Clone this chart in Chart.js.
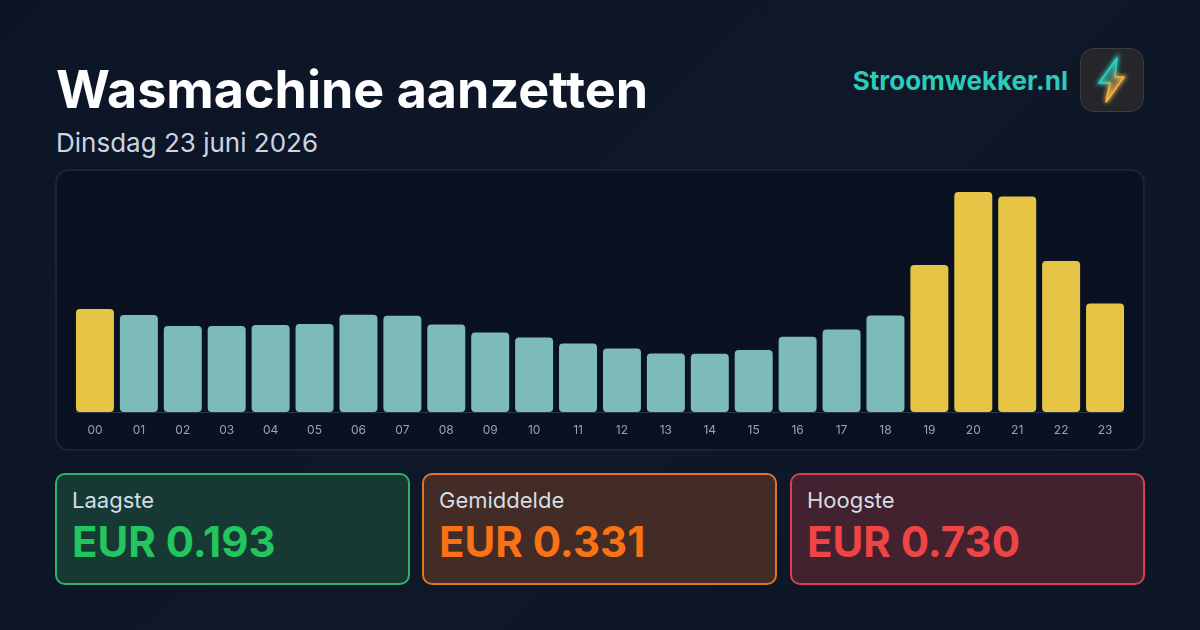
<!DOCTYPE html>
<html><head><meta charset="utf-8">
<script src="https://cdn.jsdelivr.net/npm/chart.js@4"></script>
<style>
html,body{margin:0;padding:0;width:1200px;height:630px;overflow:hidden;background:#0e1729}
body{position:relative;font-family:Inter,sans-serif;background:linear-gradient(135deg,#0b1526 0%,#0f1829 50%,#0d1627 100%);}
.title{position:absolute;left:56px;top:60px;font-size:52px;line-height:60px;font-weight:700;color:#fff;white-space:nowrap}
.sub{position:absolute;left:56px;top:126px;font-size:26px;line-height:34px;color:#cbd5e1;white-space:nowrap}
.brand{position:absolute;right:132px;top:64px;font-size:26px;line-height:34px;font-weight:700;color:#2cccb8;white-space:nowrap}
.logo{position:absolute;left:1080px;top:48px;width:64px;height:64px;box-sizing:border-box;border:1px solid #3a3c40;border-radius:14px;background:#24262a}
.logo svg{position:absolute;left:0;top:0}
.panel{position:absolute;left:55px;top:169px;width:1090px;height:282px;box-sizing:border-box;border:2px solid #1a2435;border-radius:14px;background:#0a1120}
canvas{position:absolute;left:56px;top:170px}
.card{position:absolute;top:473px;width:355px;height:112px;box-sizing:border-box;border:2px solid;border-radius:10px}
.card .l{position:absolute;left:15px;top:12px;font-size:22px;line-height:26px;color:#d5dde6;white-space:nowrap}
.card .v{position:absolute;left:15px;top:40px;font-size:42px;line-height:54px;font-weight:700;white-space:nowrap}
</style></head><body>
<div class="title" id="title"></div>
<div class="sub" id="sub"></div>
<div class="brand" id="brand"></div>
<div class="logo"><svg width="62" height="62" viewBox="0 0 62 62">
<defs><linearGradient id="g" x1="0.2" y1="0.15" x2="0.7" y2="0.9"><stop offset="0.35" stop-color="#2dd4bf"/><stop offset="0.62" stop-color="#f5b544"/></linearGradient>
<filter id="b" x="-60%" y="-60%" width="220%" height="220%"><feGaussianBlur stdDeviation="2.2"/></filter></defs>
<path d="M36 9 L18 34 L29 34 L25 53 L43 28 L34 28 Z" fill="none" stroke="url(#g)" stroke-width="3" filter="url(#b)"/>
<path d="M36 9 L18 34 L29 34 L25 53 L43 28 L34 28 Z" fill="url(#g)" fill-opacity=".4" stroke="url(#g)" stroke-width="1.4" stroke-linejoin="round"/>
</svg></div>
<div class="panel"></div>
<canvas id="c" width="1088" height="280" style="width:1088px;height:280px"></canvas>
<div id="cards"></div>
<script>
const titleText = "Wasmachine aanzetten";
const subtitleText = "Dinsdag 23 juni 2026";
const brandText = "Stroomwekker.nl";
const hours = ["00","01","02","03","04","05","06","07","08","09","10","11","12","13","14","15","16","17","18","19","20","21","22","23"];
const prices = [0.342,0.322,0.285,0.285,0.289,0.292,0.323,0.319,0.290,0.264,0.247,0.227,0.211,0.194,0.193,0.206,0.250,0.274,0.320,0.488,0.730,0.715,0.501,0.360];
const highlightedHours = ["00","19","20","21","22","23"];
const statLabels = ["Laagste","Gemiddelde","Hoogste"];
const statValues = ["EUR 0.193","EUR 0.331","EUR 0.730"];

document.getElementById('title').textContent = titleText;
document.getElementById('sub').textContent = subtitleText;
document.getElementById('brand').textContent = brandText;

const cardStyles = [
 {left:55,border:'#2fb36a',bg:'#163a33',color:'#22c55e'},
 {left:422,border:'#d9762c',bg:'#422c25',color:'#f97316'},
 {left:790,border:'#d4434a',bg:'#42222e',color:'#ef4444'}
];
const cards = document.getElementById('cards');
statLabels.forEach((t,i)=>{
  const s = cardStyles[i], d = document.createElement('div');
  d.className='card'; d.style.left=s.left+'px'; d.style.borderColor=s.border; d.style.background=s.bg;
  const l=document.createElement('div'); l.className='l'; l.textContent=t;
  const v=document.createElement('div'); v.className='v'; v.style.color=s.color; v.textContent=statValues[i];
  d.append(l,v); cards.appendChild(d);
});

const baseLine = {id:'baseLine',afterDatasetsDraw(ch){
  const a=ch.chartArea,x=ch.scales.x,c=ch.ctx,half=(x.getPixelForValue(1)-x.getPixelForValue(0))*0.865/2;
  c.save();c.strokeStyle='#2a3648';c.lineWidth=1;c.beginPath();
  c.moveTo(x.getPixelForValue(0)-half,a.bottom+.5);c.lineTo(x.getPixelForValue(hours.length-1)+half,a.bottom+.5);c.stroke();c.restore();
}};
new Chart(document.getElementById('c'),{
  type:'bar',
  data:{labels:hours,datasets:[{data:prices,
    backgroundColor:hours.map(h=>highlightedHours.includes(h)?'#e6c546':'#7dbbba'),
    borderRadius:4,borderSkipped:false,barPercentage:0.865,categoryPercentage:1}]},
  plugins:[baseLine],
  options:{responsive:false,animation:false,devicePixelRatio:1,
    layout:{padding:{left:17,right:17,top:22,bottom:0}},
    plugins:{legend:{display:false},tooltip:{enabled:false},title:{display:false}},
    scales:{
      y:{display:false,min:0,max:0.73},
      x:{grid:{display:false,drawBorder:false},border:{display:false},
         afterFit(s){s.height=38;},
         ticks:{color:'#94a3b8',font:{family:'Inter',size:12},padding:3,maxRotation:0,autoSkip:false}}
    }}
});
</script></body></html>
